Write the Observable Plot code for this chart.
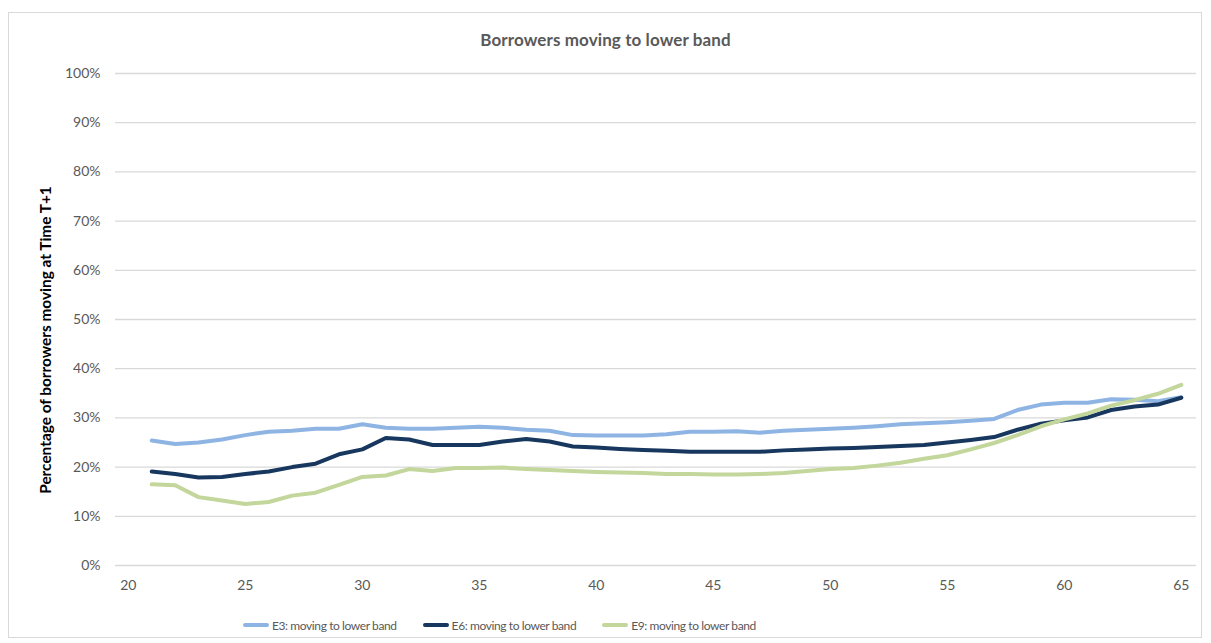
<!DOCTYPE html>
<html>
<head>
<meta charset="utf-8">
<script src="https://cdn.jsdelivr.net/npm/d3@7"></script>
<script src="https://cdn.jsdelivr.net/npm/@observablehq/plot@0.6"></script>
<style>
  body { margin: 0; background: #fff; }
  #frame { position: absolute; left: 8px; top: 12px; width: 1194px; height: 626px; border: 1px solid #d9d9d9; box-sizing: border-box; }
  #title { position: absolute; left: 0; width: 1211px; top: 29px; text-align: center; font: bold 17px Lato, sans-serif; color: #595959; letter-spacing: 0.1px; }
  #chart { position: absolute; left: 0; top: 55px; }
  #ylabel { position: absolute; left: 45px; top: 340px; transform: translate(-50%, -50%) rotate(-90deg); white-space: nowrap; font: bold 15.4px Lato, sans-serif; color: #000; }
  #legend { position: absolute; left: 243px; top: 616px; display: flex; gap: 26px; font: 12px Lato, sans-serif; letter-spacing: -0.4px; color: #595959; }
  .item { display: flex; align-items: center; gap: 3px; height: 18px; }
  .swatch { width: 26px; height: 4px; border-radius: 2px; }
</style>
</head>
<body>
<div id="frame"></div>
<div id="title"></div>
<div id="chart"></div>
<div id="ylabel"></div>
<div id="legend"></div>
<script>
// Age of borrower at time T
const ages = [21,22,23,24,25,26,27,28,29,30,31,32,33,34,35,36,37,38,39,40,41,42,43,
              44,45,46,47,48,49,50,51,52,53,54,55,56,57,58,59,60,61,62,63,64,65];

// Share of borrowers moving to a lower band at T+1
const e3 = [0.254,0.247,0.250,0.256,0.265,0.272,0.274,0.278,0.278,0.287,0.280,0.278,0.278,
            0.280,0.282,0.280,0.276,0.274,0.265,0.264,0.264,0.264,0.267,0.272,0.272,0.273,
            0.270,0.274,0.276,0.278,0.280,0.283,0.287,0.289,0.291,0.294,0.298,0.316,0.327,
            0.331,0.331,0.338,0.337,0.334,0.342];
const e6 = [0.191,0.186,0.179,0.180,0.186,0.191,0.200,0.207,0.226,0.236,0.259,0.256,0.245,
            0.245,0.245,0.252,0.257,0.252,0.242,0.240,0.237,0.235,0.233,0.231,0.231,0.231,
            0.231,0.234,0.236,0.238,0.239,0.241,0.243,0.245,0.250,0.255,0.261,0.276,0.288,
            0.295,0.301,0.316,0.323,0.327,0.341];
const e9 = [0.165,0.163,0.139,0.132,0.125,0.129,0.142,0.148,0.164,0.180,0.183,0.196,0.192,
            0.198,0.198,0.199,0.196,0.194,0.192,0.190,0.189,0.188,0.186,0.186,0.185,0.185,
            0.186,0.188,0.192,0.196,0.198,0.203,0.209,0.217,0.224,0.236,0.249,0.265,0.283,
            0.297,0.309,0.325,0.336,0.349,0.367];

const seriesNames = ["E3: moving to lower band", "E6: moving to lower band", "E9: moving to lower band"];
const seriesColors = ["#8eb4e3", "#17375e", "#c3d69b"];
const seriesValues = [e3, e6, e9];

const xTicks = [20, 25, 30, 35, 40, 45, 50, 55, 60, 65];
const yTicks = [0, 0.1, 0.2, 0.3, 0.4, 0.5, 0.6, 0.7, 0.8, 0.9, 1.0];

const titleText = "Borrowers moving to lower band";
const yLabelText = "Percentage of borrowers moving at Time T+1";

document.getElementById("title").textContent = titleText;
document.getElementById("ylabel").textContent = yLabelText;

const rows = seriesNames.flatMap((name, i) =>
  ages.map((age, j) => ({ series: name, age, value: seriesValues[i][j] })));

const chart = Plot.plot({
  width: 1211,
  height: 560,
  marginLeft: 115,
  marginRight: 15,
  marginTop: 18,
  marginBottom: 50,
  style: { fontFamily: "Lato, sans-serif", fontSize: "14px", color: "#595959", background: "transparent" },
  x: { domain: [19.45, 65.65] },
  y: { domain: [0, 1] },
  color: { domain: seriesNames, range: seriesColors },
  marks: [
    Plot.gridY({ ticks: yTicks, stroke: "#d9d9d9", strokeOpacity: 1, strokeWidth: 1.3 }),
    Plot.axisY({ ticks: yTicks, tickFormat: d3.format(".0%"), tickSize: 0, tickPadding: 15, label: null, fontSize: 14 }),
    Plot.axisX({ ticks: xTicks, tickSize: 0, tickPadding: 15, label: null, fontSize: 14 }),
    Plot.line(rows, {
      x: "age", y: "value", z: "series", stroke: "series",
      strokeWidth: 4, strokeLinejoin: "round", strokeLinecap: "round"
    })
  ]
});
document.getElementById("chart").append(chart);

// Legend built from the same series names and colours
const legend = document.getElementById("legend");
seriesNames.forEach((name, i) => {
  const item = document.createElement("div");
  item.className = "item";
  const sw = document.createElement("span");
  sw.className = "swatch";
  sw.style.background = seriesColors[i];
  const label = document.createElement("span");
  label.textContent = name;
  item.append(sw, label);
  legend.append(item);
});
</script>
</body>
</html>
